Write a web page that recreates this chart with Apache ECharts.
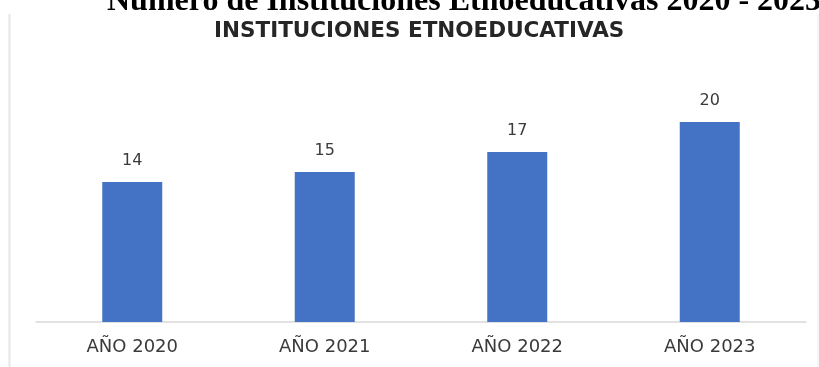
<!DOCTYPE html>
<html>
<head>
<meta charset="utf-8">
<script src="https://cdn.jsdelivr.net/npm/echarts@6/dist/echarts.min.js"></script>
<style>html,body{margin:0;padding:0;background:#fff}#c{width:819px;height:367px}</style>
</head>
<body>
<div id="c"></div>
<script>
var categories = ['AÑO 2020', 'AÑO 2021', 'AÑO 2022', 'AÑO 2023'];
var values = [14, 15, 17, 20];
var mainTitle = 'Número de Instituciones Etnoeducativas 2020 - 2023';
var subTitle = 'INSTITUCIONES ETNOEDUCATIVAS';

var chart = echarts.init(document.getElementById('c'));
chart.setOption({
  animation: false,
  backgroundColor: '#ffffff',
  title: [
    {text: mainTitle, left: 102, top: -19, textStyle: {fontFamily: 'Liberation Serif', fontWeight: 'bold', fontSize: 32, color: '#000'}},
    {text: subTitle, left: 209, top: 15, textStyle: {fontFamily: 'DejaVu Sans', fontWeight: 'bold', fontSize: 21.5, color: '#262626'}}
  ],
  graphic: [
    {type: 'line', shape: {x1: 9.5, y1: 14, x2: 9.5, y2: 367}, style: {stroke: '#e6e6e6', lineWidth: 2}},
    {type: 'line', shape: {x1: 818, y1: 14, x2: 818, y2: 367}, style: {stroke: '#ececec', lineWidth: 1}}
  ],
  grid: {left: 36, right: 13, top: 82, bottom: 45},
  xAxis: {
    type: 'category', data: categories,
    axisLine: {lineStyle: {color: '#d9d9d9', width: 1.5}},
    axisTick: {show: false},
    axisLabel: {color: '#3a3a3a', fontSize: 18, fontFamily: 'DejaVu Sans', margin: 16}
  },
  yAxis: {type: 'value', min: 0, max: 24, show: false, splitLine: {show: false}},
  series: [{
    type: 'bar', data: values, barWidth: 60,
    itemStyle: {color: '#4472C4'},
    label: {show: true, position: 'top', distance: 13, color: '#3a3a3a', fontSize: 16, fontFamily: 'DejaVu Sans'}
  }]
});
</script>
</body>
</html>
